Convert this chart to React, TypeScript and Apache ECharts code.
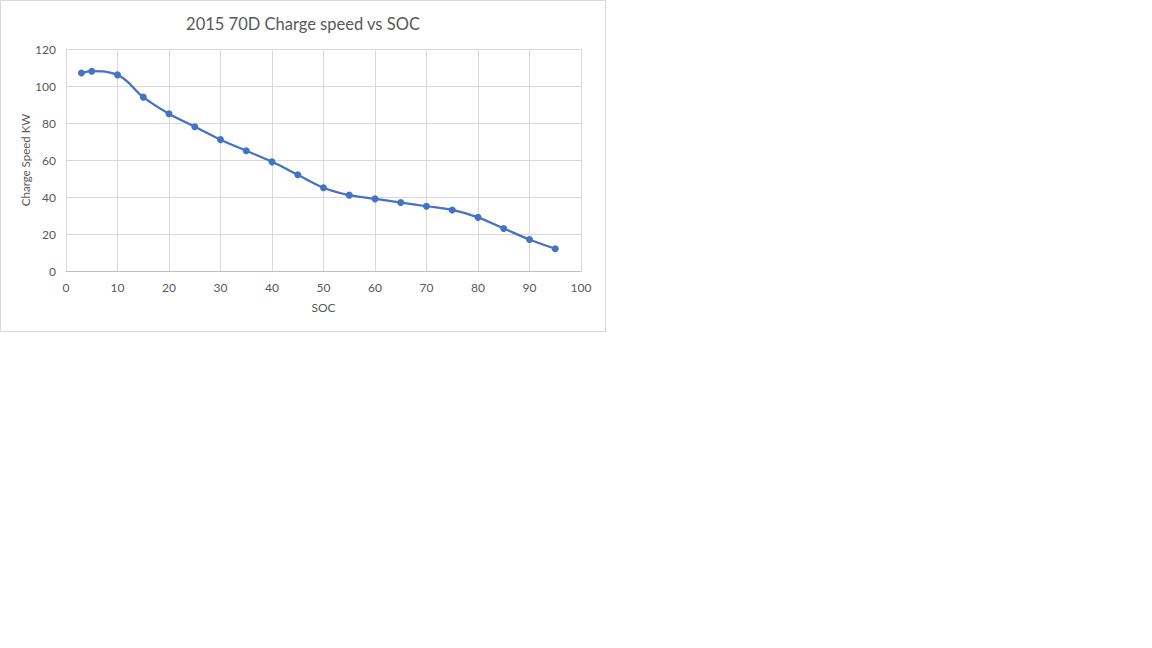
import React, { useEffect, useRef } from "react";
import * as echarts from "echarts";

const soc = [3, 5, 10, 15, 20, 25, 30, 35, 40, 45, 50, 55, 60, 65, 70, 75, 80, 85, 90, 95];
const chargeKW = [107, 108, 106, 94, 85, 78, 71, 65, 59, 52, 45, 41, 39, 37, 35, 33, 29, 23, 17, 12];

const FONT = "Lato, 'Open Sans', sans-serif";
const TXT = "#595959";

export default function App() {
  const ref = useRef<HTMLDivElement>(null);
  useEffect(() => {
    document.body.style.margin = "0";
    const chart = echarts.init(ref.current!, undefined, { renderer: "svg" });
    chart.setOption({
      animation: false,
      backgroundColor: "#ffffff",
      title: {
        text: "2015 70D Charge speed vs SOC",
        left: 298,
        top: 10,
        textAlign: "center",
        textStyle: { fontFamily: FONT, fontSize: 16.5, fontWeight: "normal", color: TXT },
      },
      graphic: [
        {
          type: "rect",
          shape: { x: 0.5, y: 0.5, width: 605, height: 331 },
          style: { fill: "none", stroke: "#d9d9d9", lineWidth: 1 },
        },
      ],
      grid: { left: 66, top: 49, width: 515, height: 222, containLabel: false },
      xAxis: {
        type: "value",
        min: 0,
        max: 100,
        interval: 10,
        name: "SOC",
        nameLocation: "middle",
        nameGap: 30,
        nameTextStyle: { fontFamily: FONT, fontSize: 12, color: TXT },
        axisLine: { show: true, lineStyle: { color: "#bfbfbf", width: 1 } },
        axisTick: { show: false },
        axisLabel: { fontFamily: FONT, fontSize: 12, color: TXT, margin: 10 },
        splitLine: { show: true, lineStyle: { color: "#d9d9d9", width: 1 } },
      },
      yAxis: {
        type: "value",
        min: 0,
        max: 120,
        interval: 20,
        name: "Charge Speed KW",
        nameLocation: "middle",
        nameGap: 34,
        nameRotate: 90,
        nameTextStyle: { fontFamily: FONT, fontSize: 11.5, color: TXT },
        axisLine: { show: true, lineStyle: { color: "#d9d9d9", width: 1 } },
        axisTick: { show: false },
        axisLabel: { fontFamily: FONT, fontSize: 12, color: TXT, margin: 10 },
        splitLine: { show: true, lineStyle: { color: "#d9d9d9", width: 1 } },
      },
      series: [
        {
          type: "line",
          data: soc.map((s, i) => [s, chargeKW[i]]),
          smooth: 0.4,
          symbol: "circle",
          symbolSize: 7,
          lineStyle: { color: "#4472C4", width: 2.25 },
          itemStyle: { color: "#4472C4" },
        },
      ],
    });
    return () => chart.dispose();
  }, []);
  return <div ref={ref} style={{ width: 1152, height: 648, position: "absolute", left: 0, top: 0 }} />;
}
